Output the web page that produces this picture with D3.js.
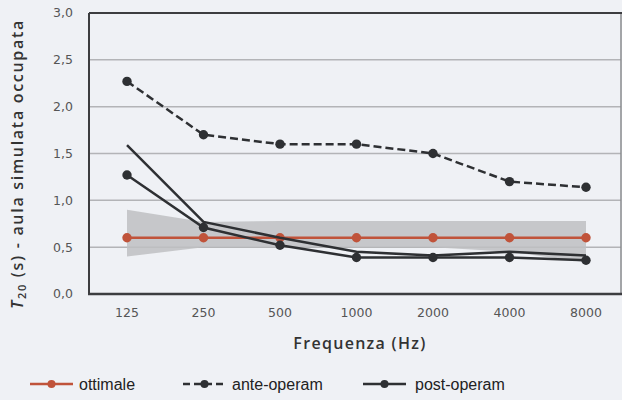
<!DOCTYPE html>
<html>
<head>
<meta charset="utf-8">
<script src="https://cdn.jsdelivr.net/npm/d3@7"></script>
<style>
  body { margin: 0; background: #eff1f5; }
  svg { display: block; }
</style>
</head>
<body>
<div id="chart"></div>
<script>
// frequency bands on the x axis
const frequencies = ["125", "250", "500", "1000", "2000", "4000", "8000"];

// y axis ticks
const yTicks = [0, 0.5, 1, 1.5, 2, 2.5, 3];

// optimal reverberation time and its tolerance band
const ottimale = [0.60, 0.60, 0.60, 0.60, 0.60, 0.60, 0.60];
const bandUpper = [0.90, 0.77, 0.78, 0.78, 0.78, 0.78, 0.78];
const bandLower = [0.40, 0.50, 0.50, 0.50, 0.50, 0.45, 0.34];

// measured before / after the intervention
const anteOperam = [2.27, 1.70, 1.60, 1.60, 1.50, 1.20, 1.14];
const postOperam = [1.27, 0.71, 0.52, 0.39, 0.39, 0.39, 0.36];
const postOperam2 = [1.59, 0.77, 0.60, 0.45, 0.41, 0.45, 0.41];

const red = "#c0533a";
const dark = "#2e3033";

const width = 622, height = 400;
const plotLeft = 89, plotRight = 621, plotTop = 13, plotBottom = 294;

const svg = d3.select("#chart").append("svg")
  .attr("width", width)
  .attr("height", height);

const x = d3.scalePoint()
  .domain(frequencies)
  .range([127, 586]);

const y = d3.scaleLinear()
  .domain([0, 3])
  .range([plotBottom, plotTop]);

// gridlines
svg.append("g")
  .selectAll("line")
  .data(yTicks.slice(1, -1))
  .enter().append("line")
  .attr("x1", plotLeft).attr("x2", plotRight)
  .attr("y1", d => y(d)).attr("y2", d => y(d))
  .attr("stroke", "#b3b4b7")
  .attr("stroke-width", 1.5);

// tolerance band
const area = d3.area()
  .x((d, i) => x(frequencies[i]))
  .y0((d, i) => y(bandLower[i]))
  .y1(d => y(d));

svg.append("path")
  .datum(bandUpper)
  .attr("d", area)
  .attr("fill", "#bebfc2")
  .attr("opacity", 0.85);

// frame
svg.append("line").attr("x1", plotRight).attr("x2", plotRight).attr("y1", plotTop).attr("y2", plotBottom)
  .attr("stroke", "#8a8b8e").attr("stroke-width", 1.5);
svg.append("line").attr("x1", plotLeft).attr("x2", width).attr("y1", plotTop).attr("y2", plotTop)
  .attr("stroke", "#3c3d40").attr("stroke-width", 2);
svg.append("line").attr("x1", plotLeft).attr("x2", plotLeft).attr("y1", plotTop).attr("y2", plotBottom)
  .attr("stroke", "#3c3d40").attr("stroke-width", 2);
svg.append("line").attr("x1", plotLeft - 1).attr("x2", width).attr("y1", plotBottom).attr("y2", plotBottom)
  .attr("stroke", "#3c3d40").attr("stroke-width", 2.5);

const line = d3.line()
  .x((d, i) => x(frequencies[i]))
  .y(d => y(d));

function drawSeries(values, color, dash, markers) {
  svg.append("path")
    .datum(values)
    .attr("d", line)
    .attr("fill", "none")
    .attr("stroke", color)
    .attr("stroke-width", 2.5)
    .attr("stroke-dasharray", dash);
  if (markers) {
    svg.append("g")
      .selectAll("circle")
      .data(values)
      .enter().append("circle")
      .attr("cx", (d, i) => x(frequencies[i]))
      .attr("cy", d => y(d))
      .attr("r", 4.7)
      .attr("fill", color);
  }
}

drawSeries(ottimale, red, null, true);
drawSeries(anteOperam, dark, "8,4", true);
drawSeries(postOperam2, dark, null, false);
drawSeries(postOperam, dark, null, true);

// axis labels
const tickFont = "'DejaVu Sans', sans-serif";
const titleFont = "'Open Sans', 'DejaVu Sans', sans-serif";

svg.append("g")
  .selectAll("text")
  .data(yTicks)
  .enter().append("text")
  .attr("x", 73)
  .attr("y", d => y(d))
  .attr("dy", "0.35em")
  .attr("text-anchor", "end")
  .attr("font-family", tickFont)
  .attr("font-size", 12.5)
  .attr("fill", "#555")
  .text(d => d3.format(".1f")(d).replace(".", ","));

svg.append("g")
  .selectAll("text")
  .data(frequencies)
  .enter().append("text")
  .attr("x", d => x(d))
  .attr("y", 317)
  .attr("text-anchor", "middle")
  .attr("font-family", tickFont)
  .attr("font-size", 12.5)
  .attr("fill", "#555")
  .text(d => d);

svg.append("text")
  .attr("x", 360)
  .attr("y", 349)
  .attr("text-anchor", "middle")
  .attr("font-family", titleFont)
  .attr("font-weight", 600)
  .attr("font-size", 16)
  .attr("letter-spacing", 1.3)
  .attr("fill", "#333")
  .text("Frequenza (Hz)");

const yTitle = svg.append("text")
  .attr("transform", "translate(23,164) rotate(-90)")
  .attr("text-anchor", "middle")
  .attr("font-family", titleFont)
  .attr("font-weight", 600)
  .attr("font-size", 16)
  .attr("letter-spacing", 1.7)
  .attr("fill", "#333");
yTitle.append("tspan").attr("font-style", "italic").text("T");
yTitle.append("tspan").attr("font-size", 11).attr("dy", 3).text("20");
yTitle.append("tspan").attr("dy", -3).text(" (s) - aula simulata occupata");

// legend
const legendItems = [
  { label: "ottimale", color: red, dash: null, x: 30 },
  { label: "ante-operam", color: dark, dash: "7,4", x: 183 },
  { label: "post-operam", color: dark, dash: null, x: 363 }
];

const legend = svg.append("g")
  .selectAll("g")
  .data(legendItems)
  .enter().append("g")
  .attr("transform", d => `translate(${d.x},384)`);

legend.append("line")
  .attr("x1", 0).attr("x2", 43)
  .attr("stroke", d => d.color)
  .attr("stroke-width", 2.5)
  .attr("stroke-dasharray", d => d.dash);

legend.append("circle")
  .attr("cx", 21.5)
  .attr("r", 4)
  .attr("fill", d => d.color);

legend.append("text")
  .attr("x", (d, i) => i == 2 ? 52 : 49)
  .attr("dy", "0.35em")
  .attr("font-family", "'Liberation Sans', Arial, sans-serif")
  .attr("font-size", 16)
  .attr("fill", "#222")
  .text(d => d.label);
</script>
</body>
</html>
